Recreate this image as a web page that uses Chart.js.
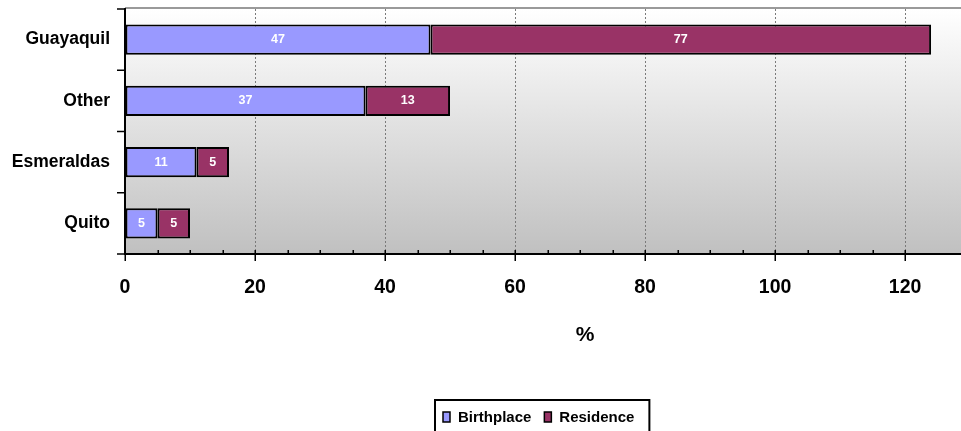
<!DOCTYPE html>
<html>
<head>
<meta charset="utf-8">
<script src="https://cdn.jsdelivr.net/npm/chart.js@4.4.1/dist/chart.umd.min.js"></script>
<style>
  html, body { margin: 0; padding: 0; background: #ffffff; }
  #wrap { width: 961px; height: 431px; overflow: hidden; }
</style>
</head>
<body>
<div id="wrap"><canvas id="chart" width="961" height="431"></canvas></div>
<script>
// Origin of respondents, stacked by place of birth and place of residence (%)
const categories = ['Guayaquil', 'Other', 'Esmeraldas', 'Quito'];
const birthplace = [47, 37, 11, 5];
const residence = [77, 13, 5, 5];
const seriesNames = ['Birthplace', 'Residence'];
const majorTicks = [0, 20, 40, 60, 80, 100, 120];
const axisTitle = '%';

const FONT = "'Liberation Sans', Arial, Helvetica, sans-serif";
const COLORS = ['#9999FF', '#993366'];

// Plot frame: white-to-grey gradient background
const backdrop = {
  id: 'backdrop',
  beforeDraw(chart) {
    const { ctx, chartArea: a } = chart;
    const g = ctx.createLinearGradient(0, a.top, 0, a.bottom);
    g.addColorStop(0, '#ffffff');
    g.addColorStop(1, '#c0c0c0');
    ctx.save();
    ctx.fillStyle = g;
    ctx.fillRect(a.left, a.top, a.right - a.left, a.bottom - a.top);
    ctx.restore();
  }
};

// White value labels in the middle of every bar segment
const valueLabels = {
  id: 'valueLabels',
  afterDatasetsDraw(chart) {
    const { ctx } = chart;
    ctx.save();
    ctx.fillStyle = '#ffffff';
    ctx.font = 'bold 12.5px ' + FONT;
    ctx.textAlign = 'center';
    ctx.textBaseline = 'middle';
    chart.data.datasets.forEach((ds, di) => {
      const meta = chart.getDatasetMeta(di);
      meta.data.forEach((bar, i) => {
        const c = bar.getCenterPoint();
        ctx.fillText(String(ds.data[i]), c.x, c.y);
      });
    });
    ctx.restore();
  }
};

// Axis lines, tick marks, top frame line, axis title and boxed legend
const frame = {
  id: 'frame',
  afterDraw(chart) {
    const { ctx, chartArea: a, scales } = chart;
    const xs = scales.x, ys = scales.y;
    ctx.save();

    // top frame line
    ctx.strokeStyle = '#9a9a9a';
    ctx.lineWidth = 2;
    ctx.beginPath();
    ctx.moveTo(a.left, a.top - 1);
    ctx.lineTo(a.right, a.top - 1);
    ctx.stroke();

    ctx.strokeStyle = '#000000';
    ctx.lineWidth = 2;
    // value axis
    ctx.beginPath();
    ctx.moveTo(a.left, a.bottom);
    ctx.lineTo(a.right, a.bottom);
    ctx.stroke();
    // category axis
    ctx.beginPath();
    ctx.moveTo(a.left, a.top - 1);
    ctx.lineTo(a.left, a.bottom + 1);
    ctx.stroke();

    // value-axis ticks: long at labelled values, short in between
    ctx.lineWidth = 1.5;
    xs.ticks.forEach(t => {
      const px = Math.round(xs.getPixelForValue(t.value)) + 0.25;
      const major = majorTicks.includes(t.value);
      ctx.beginPath();
      ctx.moveTo(px, a.bottom - 4);
      ctx.lineTo(px, a.bottom + (major ? 7 : 0));
      ctx.stroke();
    });

    // category-axis ticks on the category boundaries
    for (let i = 0; i <= categories.length; i++) {
      const py = ys.getPixelForValue(i - 0.5);
      ctx.beginPath();
      ctx.moveTo(a.left - 8, py);
      ctx.lineTo(a.left, py);
      ctx.stroke();
    }

    // axis title
    ctx.fillStyle = '#000000';
    ctx.font = 'bold 21px ' + FONT;
    ctx.textAlign = 'center';
    ctx.textBaseline = 'middle';
    ctx.fillText(axisTitle, 585, 335);

    // legend
    const lx = 435, ly = 400;
    ctx.font = 'bold 15px ' + FONT;
    ctx.textAlign = 'left';
    let x = lx + 8;
    const items = chart.data.datasets.map((ds, i) => {
      const item = { x, label: ds.label, color: ds.backgroundColor };
      x += 15 + ctx.measureText(ds.label).width + 13;
      return item;
    });
    const lw = x - lx + 2;
    ctx.lineWidth = 2;
    ctx.strokeStyle = '#000000';
    ctx.strokeRect(lx, ly, lw, 40);
    items.forEach(it => {
      ctx.fillStyle = it.color;
      ctx.fillRect(it.x, 412, 7, 10);
      ctx.lineWidth = 1.5;
      ctx.strokeRect(it.x, 412, 7, 10);
      ctx.fillStyle = '#000000';
      ctx.fillText(it.label, it.x + 15, 418);
    });

    ctx.restore();
  }
};

new Chart(document.getElementById('chart'), {
  type: 'bar',
  data: {
    labels: categories,
    datasets: [
      { label: seriesNames[0], data: birthplace, backgroundColor: COLORS[0] },
      { label: seriesNames[1], data: residence, backgroundColor: COLORS[1] }
    ]
  },
  options: {
    indexAxis: 'y',
    responsive: false,
    devicePixelRatio: 1,
    animation: false,
    events: [],
    layout: { padding: { top: 9, right: 0, left: 0, bottom: 0 } },
    datasets: {
      bar: {
        borderColor: '#000000',
        borderWidth: 2,
        borderSkipped: false,
        barPercentage: 0.49,
        categoryPercentage: 1
      }
    },
    plugins: {
      legend: { display: false },
      tooltip: { enabled: false },
      title: { display: false }
    },
    scales: {
      x: {
        stacked: true,
        min: 0,
        max: 128.6,
        afterBuildTicks(scale) {
          scale.ticks = scale.ticks.filter(t => t.value % 5 === 0);
        },
        afterFit(scale) {
          scale.height = 177;
          scale.paddingLeft = 0;
          scale.paddingRight = 0;
        },
        border: { display: false, dash: [2, 2] },
        grid: {
          drawTicks: false,
          lineWidth: 1,
          color(ctx) {
            const v = ctx.tick ? ctx.tick.value : 0;
            return (v > 0 && majorTicks.includes(v)) ? '#7a7a7a' : 'rgba(0,0,0,0)';
          }
        },
        ticks: {
          stepSize: 5,
          autoSkip: false,
          maxRotation: 0,
          padding: 22,
          color: '#000000',
          font: { family: FONT, size: 19.5, weight: 'bold' },
          callback(value) {
            return majorTicks.includes(value) ? String(value) : '';
          }
        }
      },
      y: {
        stacked: true,
        afterFit(scale) {
          scale.width = 125;
          scale.paddingTop = 0;
          scale.paddingBottom = 0;
        },
        border: { display: false },
        grid: { display: false },
        ticks: {
          padding: 7,
          color: '#000000',
          font: { family: FONT, size: 17.5, weight: 'bold' }
        }
      }
    }
  },
  plugins: [backdrop, valueLabels, frame]
});
</script>
</body>
</html>
